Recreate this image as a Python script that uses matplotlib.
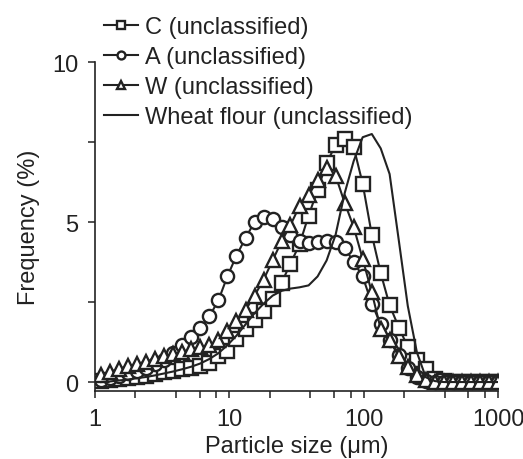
import matplotlib
matplotlib.use("Agg")
import matplotlib.pyplot as plt
from matplotlib.ticker import FixedLocator, NullFormatter

plt.rcParams['font.family'] = ['Liberation Sans', 'DejaVu Sans']

# particle size classes (um)
size = [1.11, 1.30, 1.51, 1.77, 2.06, 2.41, 2.81, 3.28, 3.82, 4.46,
        5.21, 6.08, 7.10, 8.29, 9.67, 11.3, 13.2, 15.4, 18.0, 21.0,
        24.5, 28.5, 33.3, 38.9, 45.4, 53.0, 61.8, 72.2, 84.2, 98.3,
        115, 134, 156, 183, 213, 249, 290, 339, 395, 462,
        539, 629, 734, 857, 1000]

# frequency (%)
freq_C = [0.02, 0.05, 0.08, 0.12, 0.16, 0.20, 0.25, 0.30, 0.35, 0.40,
          0.45, 0.50, 0.60, 0.80, 0.97, 1.35, 1.65, 1.93, 2.22, 2.60,
          3.10, 3.70, 4.30, 5.20, 6.00, 6.85, 7.40, 7.60, 7.35, 6.20,
          4.60, 3.40, 2.40, 1.70, 1.10, 0.70, 0.40, 0.10, 0.02, 0.0,
          0.0, 0.0, 0.0, 0.0, 0.0]
freq_A = [0.05, 0.12, 0.20, 0.28, 0.36, 0.45, 0.55, 0.68, 0.90, 1.15,
          1.40, 1.70, 2.05, 2.55, 3.30, 3.95, 4.50, 5.00, 5.17, 5.10,
          4.85, 4.60, 4.42, 4.33, 4.37, 4.40, 4.38, 4.20, 3.75, 3.30,
          2.45, 1.80, 1.30, 0.85, 0.45, 0.15, 0.03, 0.0, 0.0, 0.0,
          0.0, 0.0, 0.0, 0.0, 0.0]
freq_W = [0.22, 0.32, 0.42, 0.50, 0.57, 0.64, 0.72, 0.80, 0.88, 0.95,
          1.02, 1.08, 1.15, 1.30, 1.60, 1.90, 2.25, 2.70, 3.20, 3.80,
          4.40, 4.90, 5.50, 5.85, 6.30, 6.70, 6.45, 5.60, 4.85, 3.85,
          2.80, 1.65, 1.30, 0.80, 0.48, 0.22, 0.05, 0.0, 0.0, 0.0,
          0.0, 0.0, 0.0, 0.0, 0.0]
freq_wheat = [0.0, 0.02, 0.05, 0.08, 0.12, 0.16, 0.21, 0.27, 0.33, 0.40,
              0.48, 0.58, 0.72, 0.90, 1.15, 1.45, 1.80, 2.15, 2.45, 2.70,
              2.85, 2.92, 2.96, 3.02, 3.30, 3.80, 4.60, 5.90, 6.90, 7.65,
              7.75, 7.30, 6.50, 4.40, 2.38, 0.93, 0.15, 0.03, 0.0, 0.0,
              0.0, 0.0, 0.0, 0.0, 0.0]

fig = plt.figure(figsize=(5.23, 4.6), dpi=100)
ax = fig.add_axes([0.1816, 0.1478, 0.7706, 0.7152])

mk = dict(color='#222222', lw=1.5, mfc='white', mec='#222222', mew=1.7)
ax.plot(size, freq_C, marker='s', ms=9.5, label='C (unclassified)', **mk)
ax.plot(size, freq_A, marker='o', ms=9.5, label='A (unclassified)', **mk)
ax.plot(size, freq_W, marker='^', ms=10, label='W (unclassified)', **mk)
ax.plot(size, freq_wheat, color='#222222', lw=1.5, label='Wheat flour (unclassified)')

ax.set_xscale('log')
ax.set_xlim(1, 1000)
ax.set_ylim(-0.28, 10)
ax.set_xticks([1, 10, 100, 1000])
ax.set_xticklabels(['1', '10', '100', '1000'])
minors = [m * d for d in (1, 10, 100) for m in (2, 4, 6, 8)]
ax.xaxis.set_minor_locator(FixedLocator(minors))
ax.xaxis.set_minor_formatter(NullFormatter())
ax.set_yticks([0, 5, 10])
ax.yaxis.set_minor_locator(FixedLocator([2.5, 7.5]))

for s in ['top', 'right']:
    ax.spines[s].set_visible(False)
for s in ['left', 'bottom']:
    ax.spines[s].set_linewidth(1.2)
    ax.spines[s].set_color('#222222')
ax.tick_params(which='both', direction='out', length=5, width=1.1, pad=7,
               labelsize=17, color='#222222', labelcolor='#222222')

ax.set_xlabel('Particle size (\u03bcm)', fontsize=17, labelpad=3.5, color='#222222')
ax.set_ylabel('Frequency (%)', fontsize=17, labelpad=9, color='#222222')

leg = fig.legend(loc='upper left', bbox_to_anchor=(0.181, 0.9835), frameon=False,
                 fontsize=17, handlelength=1.44, handletextpad=0.3,
                 labelspacing=0.34, markerscale=0.6, borderaxespad=0)
for t in leg.get_texts():
    t.set_color('#222222')

fig.savefig('out.png', dpi=100)
